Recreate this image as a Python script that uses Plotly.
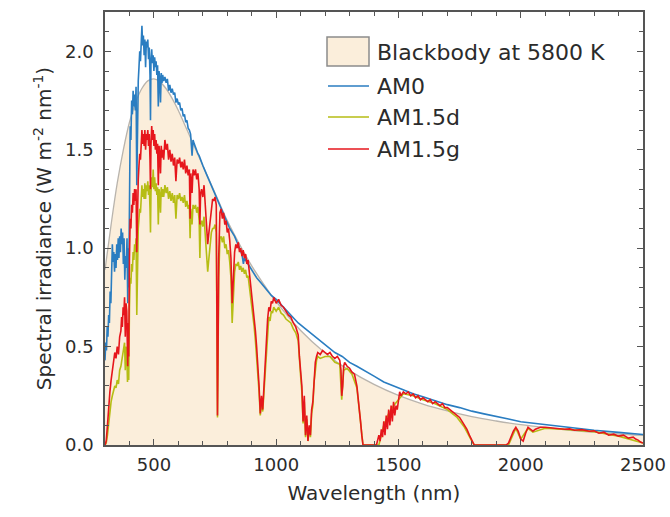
import plotly.graph_objects as go

# ---------------- data ----------------
bb_wl = [300, 325, 350, 375, 400, 425, 450, 475, 500, 525, 550, 575, 600, 625, 650, 675, 700,
         750, 800, 850, 900, 950, 1000, 1100, 1200, 1300, 1400, 1500, 1600, 1700, 1800, 1900,
         2000, 2100, 2200, 2300, 2400, 2500]
bb_val = [0.89, 1.12, 1.33, 1.50, 1.64, 1.74, 1.81, 1.85, 1.86, 1.845, 1.81, 1.76, 1.70, 1.63, 1.56,
          1.49, 1.42, 1.28, 1.14, 1.02, 0.91, 0.815, 0.728, 0.582, 0.468, 0.378, 0.308, 0.252,
          0.208, 0.173, 0.144, 0.122, 0.103, 0.088, 0.075, 0.065, 0.056, 0.049]

am0_wl = [300, 303, 306, 309, 312, 315, 318, 321, 324, 327, 330, 333, 336, 339, 342, 345, 348, 351,
          354, 357, 360, 363, 366, 369, 372, 375, 378, 381, 384, 387, 390, 393, 396, 397, 400, 403,
          406, 409, 412, 415, 418, 421, 424, 427, 430, 433, 436, 439, 442, 445, 448, 451, 454, 457,
          460, 463, 466, 469, 472, 475, 478, 481, 484, 486, 488, 491, 494, 497, 500, 503, 506, 509,
          512, 515, 518, 521, 524, 527, 530, 533, 536, 540, 545, 550, 555, 560, 565, 570, 575, 580,
          585, 590, 595, 600, 605, 610, 615, 620, 625, 630, 635, 640, 645, 650, 656, 660, 665, 670,
          675, 680, 685, 690, 695, 700, 710, 720, 730, 740, 750, 760, 770, 780, 790, 800, 810, 820,
          830, 840, 850, 860, 866, 870, 880, 890, 900, 920, 940, 960, 980, 1000, 1030, 1060, 1090,
          1120, 1150, 1180, 1210, 1240, 1270, 1300, 1330, 1360, 1400, 1440, 1480, 1520, 1560, 1600,
          1650, 1700, 1750, 1800, 1850, 1900, 1950, 2000, 2100, 2200, 2300, 2400, 2500]
am0_val = [0.43, 0.52, 0.48, 0.60, 0.55, 0.66, 0.62, 0.78, 0.72, 0.90, 1.02, 0.93, 0.98, 0.88, 0.97,
           0.90, 1.02, 0.94, 1.05, 0.95, 1.06, 0.98, 1.10, 1.02, 1.08, 0.92, 1.05, 0.84, 0.96, 0.90,
           1.05, 0.72, 1.00, 0.80, 1.35, 1.62, 1.55, 1.75, 1.68, 1.80, 1.72, 1.78, 1.70, 1.82, 1.32,
           1.68, 1.85, 1.92, 2.00, 1.95, 2.08, 2.13, 2.03, 2.08, 1.98, 2.06, 1.92, 2.05, 2.02, 2.06,
           1.96, 2.02, 1.88, 1.65, 1.95, 2.01, 1.94, 1.98, 1.90, 1.97, 1.92, 1.95, 1.88, 1.93, 1.72,
           1.90, 1.86, 1.74, 1.89, 1.84, 1.88, 1.85, 1.87, 1.84, 1.86, 1.80, 1.83, 1.79, 1.81, 1.78,
           1.79, 1.74, 1.76, 1.73, 1.74, 1.70, 1.71, 1.67, 1.68, 1.64, 1.65, 1.61, 1.60, 1.58, 1.47,
           1.55, 1.53, 1.51, 1.50, 1.48, 1.47, 1.45, 1.44, 1.42, 1.39, 1.36, 1.33, 1.30, 1.27, 1.24,
           1.21, 1.18, 1.15, 1.13, 1.10, 1.08, 1.06, 1.03, 1.00, 0.97, 0.92, 0.95, 0.93, 0.91, 0.89,
           0.85, 0.82, 0.79, 0.76, 0.74, 0.70, 0.66, 0.62, 0.59, 0.56, 0.53, 0.50, 0.47, 0.45, 0.42,
           0.40, 0.38, 0.35, 0.32, 0.30, 0.28, 0.26, 0.245, 0.225, 0.205, 0.19, 0.172, 0.158, 0.146,
           0.132, 0.118, 0.103, 0.09, 0.075, 0.064, 0.053]

am15g_wl = [300, 305, 310, 315, 320, 325, 330, 335, 340, 345, 350, 355, 360, 365, 368, 371, 374, 377,
            380, 383, 386, 389, 391, 393, 395, 397, 400, 403, 406, 409, 412, 415, 418, 421, 424, 427,
            430, 433, 436, 439, 442, 445, 448, 451, 454, 457, 460, 463, 466, 469, 472, 475, 478, 481,
            484, 486, 488, 491, 494, 497, 500, 503, 506, 509, 512, 515, 518, 521, 524, 527, 530, 533,
            536, 540, 545, 550, 555, 560, 565, 570, 575, 580, 585, 590, 595, 600, 605, 610, 615, 620,
            625, 630, 635, 640, 645, 648, 651, 656, 660, 665, 670, 675, 680, 685, 688, 691, 695, 700,
            705, 710, 715, 720, 725, 730, 735, 740, 745, 750, 755, 758, 760, 762, 765, 770, 775, 780,
            785, 790, 795, 800, 805, 810, 815, 820, 825, 830, 835, 840, 845, 850, 855, 860, 865, 870,
            875, 880, 885, 890, 895, 900, 905, 910, 915, 920, 925, 930, 935, 940, 945, 950, 955, 960,
            965, 970, 975, 980, 985, 990, 1000, 1010, 1020, 1030, 1040, 1050, 1060, 1070, 1080, 1090,
            1095, 1100, 1105, 1110, 1115, 1120, 1125, 1130, 1135, 1140, 1145, 1150, 1155, 1160, 1165,
            1170, 1180, 1190, 1200, 1210, 1220, 1230, 1240, 1250, 1260, 1265, 1268, 1272, 1276, 1280,
            1290, 1300, 1310, 1320, 1330, 1340, 1345, 1350, 1355, 1410, 1415, 1420, 1425, 1430, 1435,
            1440, 1445, 1450, 1455, 1460, 1465, 1470, 1475, 1480, 1485, 1490, 1495, 1500, 1505, 1510,
            1520, 1530, 1540, 1550, 1560, 1570, 1580, 1590, 1600, 1610, 1620, 1630, 1640, 1650, 1660,
            1670, 1680, 1690, 1700, 1710, 1720, 1730, 1740, 1750, 1760, 1770, 1780, 1790, 1800, 1810,
            1940, 1950, 1960, 1970, 1980, 1990, 2000, 2010, 2020, 2030, 2040, 2050, 2060, 2080, 2100,
            2120, 2150, 2180, 2200, 2220, 2250, 2280, 2300, 2320, 2340, 2360, 2380, 2400, 2420, 2440,
            2460, 2470, 2480, 2490, 2500]
am15g_val = [0.0, 0.02, 0.10, 0.20, 0.27, 0.33, 0.38, 0.42, 0.47, 0.44, 0.50, 0.46, 0.55, 0.58, 0.65,
             0.60, 0.70, 0.66, 0.75, 0.55, 0.72, 0.68, 0.48, 0.40, 0.62, 0.45, 0.95, 1.15, 1.10, 1.22,
             1.18, 1.28, 1.22, 1.30, 1.24, 1.30, 0.98, 1.25, 1.35, 1.42, 1.48, 1.45, 1.55, 1.60, 1.53,
             1.58, 1.52, 1.60, 1.50, 1.58, 1.55, 1.60, 1.52, 1.58, 1.45, 1.30, 1.52, 1.62, 1.55, 1.60,
             1.52, 1.58, 1.50, 1.55, 1.48, 1.53, 1.32, 1.52, 1.48, 1.38, 1.52, 1.46, 1.50, 1.45, 1.55,
             1.50, 1.53, 1.45, 1.50, 1.44, 1.48, 1.42, 1.46, 1.34, 1.45, 1.43, 1.46, 1.41, 1.44, 1.40,
             1.45, 1.38, 1.42, 1.37, 1.40, 1.15, 1.38, 1.28, 1.40, 1.37, 1.40, 1.35, 1.38, 1.30, 1.12,
             1.28, 1.30, 1.26, 1.32, 1.22, 1.10, 1.02, 1.08, 1.15, 1.22, 1.25, 1.24, 1.26, 1.22, 0.60,
             0.15, 0.45, 0.95, 1.18, 1.20, 1.15, 1.18, 1.12, 1.14, 1.08, 1.10, 1.04, 0.95, 0.72, 0.85,
             0.98, 1.02, 1.00, 1.03, 0.98, 1.00, 0.96, 0.99, 0.95, 0.97, 0.92, 0.94, 0.88, 0.84, 0.78,
             0.72, 0.66, 0.58, 0.50, 0.42, 0.30, 0.16, 0.25, 0.18, 0.30, 0.45, 0.55, 0.64, 0.70, 0.68,
             0.73, 0.72, 0.75, 0.72, 0.74, 0.71, 0.70, 0.68, 0.66, 0.65, 0.62, 0.60, 0.56, 0.45, 0.38,
             0.30, 0.12, 0.25, 0.05, 0.15, 0.02, 0.10, 0.05, 0.18, 0.22, 0.35, 0.42, 0.45, 0.47, 0.46,
             0.48, 0.47, 0.46, 0.47, 0.45, 0.44, 0.45, 0.43, 0.38, 0.25, 0.30, 0.40, 0.42, 0.40, 0.39,
             0.37, 0.36, 0.30, 0.20, 0.12, 0.05, 0.0, 0.0, 0.02, 0.05, 0.02, 0.08, 0.04, 0.12, 0.05,
             0.15, 0.08, 0.18, 0.10, 0.20, 0.12, 0.22, 0.15, 0.20, 0.18, 0.24, 0.27, 0.25, 0.27, 0.26,
             0.27, 0.25, 0.26, 0.24, 0.25, 0.23, 0.24, 0.23, 0.22, 0.23, 0.21, 0.22, 0.21, 0.20, 0.21,
             0.19, 0.19, 0.18, 0.17, 0.16, 0.15, 0.14, 0.12, 0.10, 0.08, 0.05, 0.02, 0.0, 0.0, 0.01,
             0.04, 0.07, 0.09, 0.07, 0.03, 0.02, 0.06, 0.09, 0.08, 0.07, 0.08, 0.09, 0.09, 0.088, 0.085,
             0.08, 0.082, 0.075, 0.078, 0.07, 0.072, 0.06, 0.065, 0.05, 0.055, 0.045, 0.05, 0.035,
             0.04, 0.03, 0.025, 0.015, 0.01]

am15d_wl = [300, 305, 310, 315, 320, 325, 330, 335, 340, 345, 350, 355, 360, 365, 370, 375, 380, 383,
            386, 389, 392, 395, 397, 400, 403, 406, 409, 412, 415, 418, 421, 424, 427, 430, 433, 436,
            439, 442, 445, 448, 451, 454, 457, 460, 463, 466, 469, 472, 475, 478, 481, 484, 486, 488,
            491, 494, 497, 500, 503, 506, 509, 512, 515, 518, 521, 524, 527, 530, 533, 536, 540, 545,
            550, 555, 560, 565, 570, 575, 580, 585, 590, 595, 600, 605, 610, 615, 620, 625, 630, 635,
            640, 645, 648, 651, 656, 660, 665, 670, 675, 680, 685, 688, 691, 695, 700, 705, 710, 715,
            720, 725, 730, 735, 740, 745, 750, 755, 758, 760, 762, 765, 770, 775, 780, 785, 790, 795,
            800, 805, 810, 815, 820, 825, 830, 835, 840, 845, 850, 855, 860, 865, 870, 875, 880, 885,
            890, 895, 900, 905, 910, 915, 920, 925, 930, 935, 940, 945, 950, 955, 960, 965, 970, 975,
            980, 985, 990, 1000, 1010, 1020, 1030, 1040, 1050, 1060, 1070, 1080, 1090, 1095, 1100,
            1105, 1110, 1115, 1120, 1125, 1130, 1135, 1140, 1145, 1150, 1155, 1160, 1165, 1170, 1180,
            1200, 1220, 1240, 1260, 1268, 1276, 1290, 1310, 1330, 1345, 1355, 1420, 1440, 1460, 1480,
            1500, 1520, 1560, 1600, 1650, 1700, 1740, 1770, 1800, 1810, 1950, 1980, 2000, 2030, 2050,
            2100, 2200, 2300, 2400, 2500]
am15d_val = [0.0, 0.01, 0.05, 0.12, 0.18, 0.22, 0.25, 0.28, 0.30, 0.29, 0.33, 0.31, 0.38, 0.40, 0.44,
             0.48, 0.52, 0.38, 0.50, 0.47, 0.32, 0.45, 0.33, 0.70, 0.85, 0.82, 0.92, 0.88, 0.98, 0.94,
             1.02, 0.98, 1.05, 0.66, 1.00, 1.10, 1.15, 1.20, 1.18, 1.27, 1.32, 1.26, 1.30, 1.25, 1.33,
             1.25, 1.32, 1.29, 1.34, 1.27, 1.32, 1.20, 1.08, 1.28, 1.36, 1.31, 1.40, 1.30, 1.36, 1.29,
             1.33, 1.27, 1.31, 1.12, 1.30, 1.27, 1.18, 1.31, 1.26, 1.30, 1.26, 1.32, 1.28, 1.31, 1.25,
             1.29, 1.24, 1.28, 1.23, 1.27, 1.15, 1.27, 1.25, 1.28, 1.24, 1.26, 1.23, 1.27, 1.21, 1.24,
             1.20, 1.22, 1.05, 1.20, 1.12, 1.22, 1.20, 1.22, 1.18, 1.21, 1.14, 0.95, 1.12, 1.14, 1.11,
             1.16, 1.08, 0.98, 0.88, 0.95, 1.02, 1.08, 1.10, 1.10, 1.12, 1.08, 0.55, 0.14, 0.40, 0.85,
             1.05, 1.06, 1.03, 1.06, 1.00, 1.02, 0.97, 0.99, 0.93, 0.85, 0.62, 0.76, 0.88, 0.92, 0.91,
             0.93, 0.89, 0.91, 0.88, 0.90, 0.87, 0.89, 0.85, 0.86, 0.81, 0.77, 0.71, 0.66, 0.60, 0.53,
             0.45, 0.38, 0.27, 0.15, 0.22, 0.17, 0.27, 0.41, 0.50, 0.59, 0.65, 0.63, 0.68, 0.67, 0.70,
             0.68, 0.70, 0.67, 0.66, 0.64, 0.63, 0.62, 0.59, 0.57, 0.53, 0.42, 0.35, 0.27, 0.11, 0.22,
             0.04, 0.13, 0.02, 0.09, 0.04, 0.16, 0.20, 0.32, 0.39, 0.43, 0.45, 0.44, 0.45, 0.45, 0.42,
             0.41, 0.23, 0.38, 0.39, 0.36, 0.29, 0.11, 0.0, 0.0, 0.10, 0.16, 0.20, 0.23, 0.26, 0.25,
             0.23, 0.21, 0.18, 0.14, 0.09, 0.02, 0.0, 0.0, 0.085, 0.03, 0.085, 0.065, 0.085, 0.078,
             0.068, 0.045, 0.01]

x_ticks = [500, 1000, 1500, 2000, 2500]
y_ticks = [0.0, 0.5, 1.0, 1.5, 2.0]

names = ["Blackbody at 5800 K", "AM0", "AM1.5d", "AM1.5g"]
colors = ["#fbeedb", "#2a7dc1", "#b6bd14", "#e6161c"]

# ---------------- figure ----------------
FONT = "DejaVu Sans, Liberation Sans, Arial, sans-serif"
TXT = "#2b2b2b"
fig = go.Figure()
fig.add_trace(go.Scatter(x=bb_wl, y=bb_val, name=names[0], mode="lines", fill="tozeroy",
                         fillcolor=colors[0], line=dict(color="#b9b4ad", width=1.3, shape="spline")))
fig.add_trace(go.Scatter(x=am0_wl, y=am0_val, name=names[1], mode="lines",
                         line=dict(color=colors[1], width=1.6)))
fig.add_trace(go.Scatter(x=am15d_wl, y=am15d_val, name=names[2], mode="lines",
                         line=dict(color=colors[2], width=1.6)))
fig.add_trace(go.Scatter(x=am15g_wl, y=am15g_val, name=names[3], mode="lines",
                         line=dict(color=colors[3], width=1.6)))

axis_common = dict(showline=True, linecolor="#555555", linewidth=1.5, mirror="allticks",
                   ticks="inside", ticklen=6, tickwidth=1.3, tickcolor="#555555",
                   showgrid=False, zeroline=False,
                   tickfont=dict(family=FONT, size=18, color=TXT))

fig.update_xaxes(range=[300, 2500], tickvals=x_ticks, ticklabelstandoff=3,
                 minor=dict(dtick=100, ticks="inside", ticklen=4, tickcolor="#555555", tickwidth=1),
                 title=dict(text="Wavelength (nm)", font=dict(family=FONT, size=20, color=TXT),
                            standoff=12),
                 **axis_common)
fig.update_yaxes(range=[0, 2.2], tickvals=y_ticks, tickformat=".1f", ticklabelstandoff=6,
                 minor=dict(dtick=0.1, ticks="inside", ticklen=4, tickcolor="#555555", tickwidth=1),
                 title=dict(text="Spectral irradiance (W m<sup>-2</sup> nm<sup>-1</sup>)",
                            font=dict(family=FONT, size=20, color=TXT), standoff=8),
                 **axis_common)

# ---------------- legend (drawn in paper coordinates) ----------------
PL, PW, PT, PH = 105, 538, 12, 433   # plot area in pixels
def px_x(px):
    return (px - PL) / PW
def px_y(py):
    return (PT + PH - py) / PH

shapes = []
annotations = []
item_y = [52, 86, 117, 149]
shapes.append(dict(type="rect", xref="paper", yref="paper",
                   x0=px_x(327), x1=px_x(369), y0=px_y(66), y1=px_y(37),
                   fillcolor=colors[0], line=dict(color="#8c8c8c", width=1.5)))
for i in range(1, 4):
    shapes.append(dict(type="line", xref="paper", yref="paper",
                       x0=px_x(328), x1=px_x(369), y0=px_y(item_y[i]), y1=px_y(item_y[i]),
                       line=dict(color=colors[i], width=1.6)))
for i in range(4):
    annotations.append(dict(text=names[i], xref="paper", yref="paper", x=px_x(375),
                            y=px_y(item_y[i]), xanchor="left", yanchor="middle", showarrow=False,
                            font=dict(family=FONT, size=22, color=TXT)))

fig.update_layout(
    width=670, height=517,
    margin=dict(l=105, r=27, t=12, b=72, autoexpand=False),
    paper_bgcolor="white", plot_bgcolor="white",
    showlegend=False,
    shapes=shapes, annotations=annotations,
)

fig.write_html("out.html")
